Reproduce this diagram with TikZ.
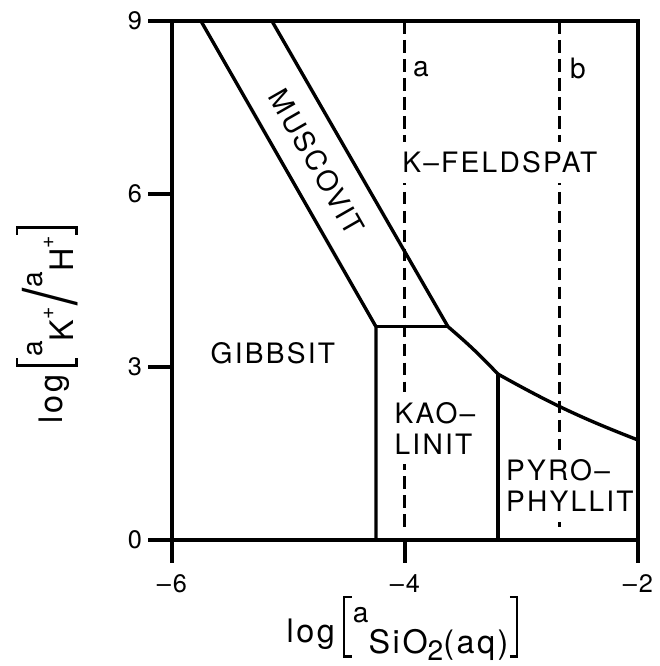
\documentclass[tikz,border=0pt]{standalone}
\usepackage{graphicx}
\usepackage{fontspec}
\setmainfont{TeX Gyre Heros}
\newfontfamily\phasefont[LetterSpace=8]{TeX Gyre Heros}
\usetikzlibrary{positioning}

\newcommand{\lbk}{\kern2pt\rule[-11pt]{1.7pt}{44pt}\kern-1.7pt\rule[-11pt]{6pt}{1.7pt}\kern-6pt\rule[31.3pt]{6pt}{1.7pt}\kern1pt}
\newcommand{\rbk}{\kern1pt\rule[-11pt]{6pt}{1.7pt}\kern-6pt\rule[31.3pt]{6pt}{1.7pt}\kern-1.7pt\rule[-11pt]{1.7pt}{44pt}\kern2pt}
\newcommand{\slsh}{\kern1pt\raisebox{-10pt}{\scalebox{1.9}[2.3]{/}}\kern1pt}
\newcommand{\hi}[1]{\raisebox{14pt}{\fontsize{20}{22}\selectfont #1}}
\newcommand{\lo}[1]{\raisebox{-8pt}{#1}}
\newcommand{\ion}[1]{#1\raisebox{14pt}{\fontsize{15}{18}\selectfont +}}

\begin{document}
\begin{tikzpicture}[x=2.9125cm, y=1.4417cm, line width=2.4pt,
  phase/.style={font=\phasefont\fontsize{20}{22}\selectfont, fill=white, inner sep=7pt},
  ticklbl/.style={font=\phasefont\fontsize{18}{20}\selectfont, inner sep=3pt},
  axlbl/.style={font=\phasefont\fontsize{23}{26}\selectfont},
  dashline/.style={dash pattern=on 9pt off 4.5pt, line width=2.2pt}]
\useasboundingbox (-7.476,-2.185) rectangle (-1.811,9.364);

% phase boundary points
\coordinate (o) at (-6,0);
\coordinate (ne) at (-2,9);
\coordinate (gmTop) at (-5.751,9);
\coordinate (mkTop) at (-5.142,9);
\coordinate (gmk) at (-4.249,3.70);
\coordinate (mkk) at (-3.631,3.70);
\coordinate (kpk) at (-3.202,2.878);
\coordinate (kpEnd) at (-2,1.734);
\coordinate (gkBot) at (-4.249,0);
\coordinate (kpBot) at (-3.202,0);

% paths a and b
\coordinate (aTop) at (-4,9);
\coordinate (aBot) at (-4,0.17);
\coordinate (bTop) at (-2.67,9);
\coordinate (bBot) at (-2.67,0.12);
\draw[dashline] (aTop) -- (aBot);
\draw[dashline] (bTop) -- (bBot);
\node[phase, fill=none, inner sep=0pt] (alab) at (-3.863,8.17) {a};
\node[phase, fill=none, inner sep=0pt] (blab) at (-2.515,8.18) {b};

% fields
\node[phase] (kfs) at (-3.185,6.55) {K\textendash FELDSPAT};
\node[phase, fill=none, rotate=-60.2] (musc) at (-4.755,6.55) {MUSCOVIT};
\node[phase] (gib) at (-5.133,3.24) {GIBBSIT};
\node[phase, align=left] (kao) at (-3.742,1.94) {KAO\textendash\\LINIT};
\node[phase, align=left] (pyr) at (-2.584,0.94) {PYRO\textendash\\PHYLLIT};

% boundaries
\draw (gmTop) -- (gmk) -- (gkBot);
\draw (gmk) -- (mkk);
\draw (mkTop) -- (mkk) to[bend left=3] (kpk) to[bend right=4] (kpEnd);
\draw (kpk) -- (kpBot);

% frame and ticks
\draw (o) rectangle (ne);
\draw (-6,9) -- ++(-0.206,0) node[ticklbl, left] (y9) {9};
\draw (-6,6) -- ++(-0.206,0) node[ticklbl, left] (y6) {6};
\draw (-6,3) -- ++(-0.206,0) node[ticklbl, left] (y3) {3};
\draw (-6,0) -- ++(-0.206,0) node[ticklbl, left] (y0) {0};
\draw (-6,0) -- ++(0,-0.4) node[ticklbl, below, yshift=-4pt] (xm6) {\textendash6};
\draw (-4,0) -- ++(0,-0.4) node[ticklbl, below, yshift=-4pt] (xm4) {\textendash4};
\draw (-2,0) -- ++(0,-0.4) node[ticklbl, below, yshift=-4pt] (xm2) {\textendash2};

% axis labels
\node[axlbl] (xlab) at (-4.009,-1.526)
  {log\,\lbk\hi{a}\lo{SiO\raisebox{-5pt}{\fontsize{20}{22}\selectfont 2}(aq)}\rbk};
\node[axlbl, rotate=90] (ylab) at (-7.073,3.76)
  {log\,\lbk\hi{a}\lo{\ion{K}}\slsh\hi{a}\lo{\ion{H}}\rbk};
\end{tikzpicture}
\end{document}
